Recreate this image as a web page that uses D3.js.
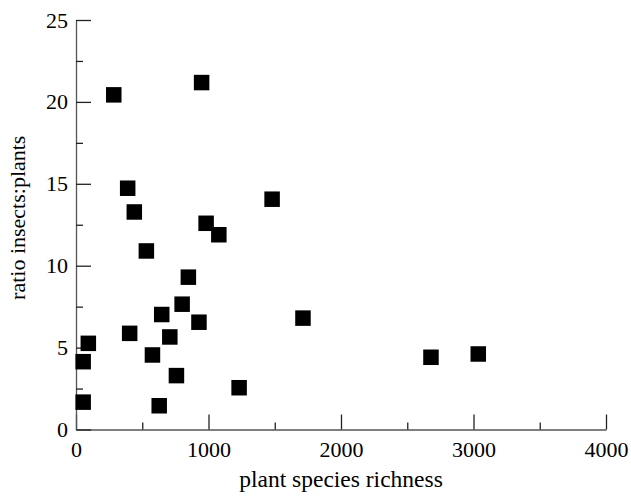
<!DOCTYPE html>
<html>
<head>
<meta charset="utf-8">
<script src="https://cdn.jsdelivr.net/npm/d3@7"></script>
<style>
  body { margin: 0; background: #fff; }
  text { font-family: "Liberation Serif", "DejaVu Serif", serif; }
</style>
</head>
<body>
<div id="chart"></div>
<script>
// plant species richness vs ratio insects:plants
const richness = [285, 948, 390, 440, 1480, 982, 1078, 531, 848, 801, 647, 928,
    1713, 405, 708, 93, 577, 54, 758, 1231, 54, 628, 2679, 3036]
const ratio = [20.43, 21.18, 14.73, 13.28, 14.06, 12.59, 11.89, 10.9, 9.3, 7.65, 7.02, 6.55,
    6.8, 5.87, 5.65, 5.26, 4.55, 4.14, 3.29, 2.55, 1.67, 1.45, 4.41, 4.61]

const xTicks = [0, 1000, 2000, 3000, 4000]
const xMinor = [500, 1500, 2500, 3500]
const yTicks = [0, 5, 10, 15, 20, 25]
const yMinor = [2.5, 7.5, 12.5, 17.5, 22.5]

drawChart()

function drawChart() {
    let margin = { top: 20, right: 25, bottom: 66.5, left: 76 }
    let width = 631 - margin.left - margin.right
    let height = 496 - margin.top - margin.bottom

    let svg = d3.select("#chart")
        .append("svg")
        .attr("width", 631)
        .attr("height", 496)
        .append("g")
        .attr("transform", "translate(" + margin.left + "," + margin.top + ")")

    let x = d3.scaleLinear().domain([0, 4000]).range([0, width])
    let y = d3.scaleLinear().domain([0, 25]).range([height, 0])

    // X axis, ticks point inward
    let xAxis = svg.append("g")
        .attr("transform", "translate(0," + height + ")")
        .call(d3.axisBottom(x).tickValues(xTicks).tickFormat(d3.format("d"))
            .tickSize(-15).tickPadding(12).tickSizeOuter(0))
    xAxis.selectAll("text").style("font-size", "22px").attr("fill", "#000")
    xAxis.append("g")
        .call(d3.axisBottom(x).tickValues(xMinor).tickSize(-7).tickFormat("").tickSizeOuter(0))
        .select(".domain").remove()

    // Y axis
    let yAxis = svg.append("g")
        .call(d3.axisLeft(y).tickValues(yTicks).tickFormat(d3.format("d"))
            .tickSize(-15).tickPadding(8).tickSizeOuter(0))
    yAxis.selectAll("text").style("font-size", "22px").attr("fill", "#000")
    yAxis.append("g")
        .call(d3.axisLeft(y).tickValues(yMinor).tickSize(-7).tickFormat("").tickSizeOuter(0))
        .select(".domain").remove()

    svg.selectAll(".domain").attr("stroke", "#555").attr("stroke-width", 1.3)
    svg.selectAll(".tick line").attr("stroke", "#222").attr("stroke-width", 1.3)

    // markers
    const size = 15.5
    svg.selectAll("rect.pt")
        .data(richness)
        .enter()
        .append("rect")
        .attr("class", "pt")
        .attr("x", (d, i) => x(d) - size / 2)
        .attr("y", (d, i) => y(ratio[i]) - size / 2)
        .attr("width", size)
        .attr("height", size)
        .attr("fill", "#000")

    // axis titles
    svg.append("text")
        .attr("x", width / 2)
        .attr("y", height + 57.5)
        .attr("text-anchor", "middle")
        .style("font-size", "23.5px")
        .text("plant species richness")

    svg.append("text")
        .attr("transform", "translate(-51," + (height / 2 - 7) + ")rotate(-90)")
        .attr("text-anchor", "middle")
        .style("font-size", "22px")
        .text("ratio insects:plants")
}
</script>
</body>
</html>
